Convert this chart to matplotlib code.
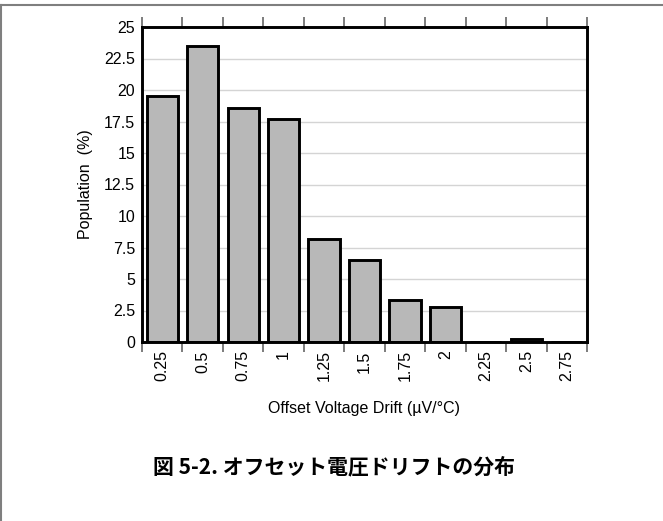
import matplotlib
matplotlib.use("Agg")
import matplotlib.pyplot as plt
import numpy as np
from matplotlib.lines import Line2D

plt.rcParams["font.family"] = ["Liberation Sans", "DejaVu Sans"]

categories = ["0.25", "0.5", "0.75", "1", "1.25", "1.5", "1.75", "2", "2.25", "2.5", "2.75"]
population = [19.5, 23.5, 18.6, 17.7, 8.15, 6.5, 3.3, 2.8, 0.0, 0.25, 0.0]
y_ticks = [0, 2.5, 5, 7.5, 10, 12.5, 15, 17.5, 20, 22.5, 25]
y_tick_labels = ["0", "2.5", "5", "7.5", "10", "12.5", "15", "17.5", "20", "22.5", "25"]

W, H = 663, 521
fig = plt.figure(figsize=(W / 100, H / 100), dpi=100)
ax = fig.add_axes([142 / W, 1 - 342 / H, (587 - 142) / W, (342 - 27) / H])

x = np.arange(len(categories))
ax.bar(x, population, width=0.77, color="#b8b8b8", edgecolor="black",
       linewidth=2.1, zorder=3)

ax.set_xlim(-0.5, len(categories) - 0.5)
ax.set_ylim(0, 25)
ax.set_yticks(y_ticks)
ax.set_yticklabels(y_tick_labels, fontsize=11.5)
ax.tick_params(axis="y", length=0, pad=5)
ax.yaxis.grid(True, color="#d4d4d4", linewidth=1.0, zorder=0)
ax.set_axisbelow(True)

# category labels sit between boundary ticks
ax.set_xticks(x)
ax.set_xticklabels(categories, rotation=90, fontsize=11.5)
ax.tick_params(axis="x", which="major", length=0, pad=6)
ax.set_xticks(np.arange(len(categories) + 1) - 0.5, minor=True)
ax.tick_params(axis="x", which="minor", length=7, width=1.2, color="#666666",
               direction="out", bottom=True, top=True)

for s in ax.spines.values():
    s.set_linewidth(2.1)
    s.set_color("black")
    s.set_zorder(4)

ax.set_ylabel("Population  (%)", fontsize=11.5, labelpad=8)
ax.set_xlabel("Offset Voltage Drift (µV/°C)", fontsize=11.5, labelpad=14)

fig.text(334 / W, 1 - 467 / H, "図 5-2. オフセット電圧ドリフトの分布",
         ha="center", va="center", fontsize=15, fontweight="bold",
         family=["Noto Sans CJK JP", "DejaVu Sans"])

# outer frame (left and top only)
fig.add_artist(Line2D([0.5 / W, 0.5 / W], [0, 1 - 5 / H], color="#7f7f7f",
                      linewidth=1.5, transform=fig.transFigure))
fig.add_artist(Line2D([0, 1], [1 - 5 / H, 1 - 5 / H], color="#7f7f7f",
                      linewidth=1.5, transform=fig.transFigure))

fig.savefig("out.png", dpi=100)
